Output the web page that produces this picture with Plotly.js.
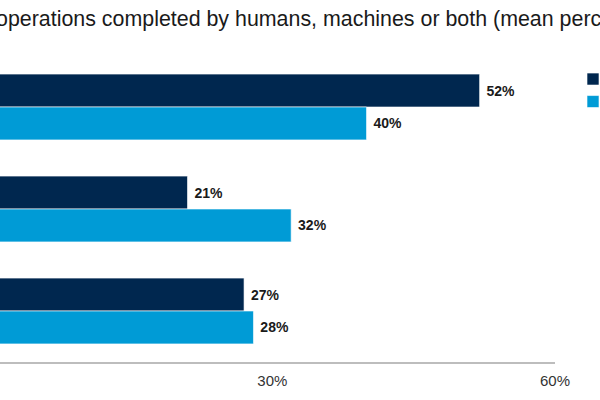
<!DOCTYPE html>
<html>
<head>
<meta charset="utf-8">
<script src="https://cdn.plot.ly/plotly-3.0.1.min.js"></script>
<style>
  html, body { margin: 0; padding: 0; background: #fff; }
  #chart { width: 600px; height: 400px; }
</style>
</head>
<body>
<div id="chart"></div>
<script>
// Share of operations by who completes them, two survey series
var categories = ['Humans', 'Machines', 'Humans and machines'];
var currentShare = [52, 21, 27];
var expectedShare = [40, 32, 28];
var seriesNames = ['Current', 'Expected'];
var tickVals = [0, 30, 60];
var tickText = ['0%', '30%', '60%'];

var labelFont = { family: 'Liberation Sans, Arial, sans-serif', size: 14, color: '#1a1a1a', weight: 'bold' };

function barTrace(values, name, color) {
  return {
    type: 'bar',
    orientation: 'h',
    y: categories,
    x: values,
    name: name,
    marker: { color: color, line: { color: 'rgba(255,255,255,0.6)', width: 1 } },
    texttemplate: '\u00a0%{x}%',
    textposition: 'outside',
    textfont: labelFont,
    constraintext: 'none',
    cliponaxis: false,
    hovertemplate: '%{y}: %{x}%<extra>' + name + '</extra>'
  };
}

var traces = [
  barTrace(currentShare, seriesNames[0], '#00274f'),
  barTrace(expectedShare, seriesNames[1], '#009bd6')
];

var layout = {
  width: 600,
  height: 400,
  barmode: 'group',
  bargap: 0.355,
  bargroupgap: 0,
  paper_bgcolor: '#fff',
  plot_bgcolor: '#fff',
  font: { family: 'Liberation Sans, Arial, sans-serif', color: '#333' },
  margin: { l: 0, r: 45, t: 56, b: 38, autoexpand: false },
  xaxis: {
    range: [1.1, 60],
    tickvals: tickVals,
    ticktext: tickText,
    showgrid: false,
    zeroline: false,
    showline: true,
    linecolor: '#bdbdbd',
    linewidth: 2,
    ticks: '',
    ticklabelstandoff: 4,
    tickfont: { size: 15, color: '#333' },
    fixedrange: true
  },
  yaxis: {
    autorange: 'reversed',
    showticklabels: false,
    showgrid: false,
    zeroline: false,
    showline: false,
    fixedrange: true
  },
  legend: {
    xref: 'container',
    yref: 'container',
    x: 0.955,
    y: 0.843,
    xanchor: 'left',
    yanchor: 'top',
    font: { size: 15, color: '#333' },
    bgcolor: 'rgba(0,0,0,0)'
  },
  showlegend: true,
  annotations: [{
    text: 'operations completed by humans, machines or both (mean percentage)',
    xref: 'paper',
    yref: 'paper',
    x: -0.011,
    y: 1.121,
    xanchor: 'left',
    yanchor: 'middle',
    showarrow: false,
    font: { size: 21.4, color: '#1a1a1a' }
  }]
};

Plotly.newPlot('chart', traces, layout, { displayModeBar: false, staticPlot: true });
</script>
</body>
</html>
